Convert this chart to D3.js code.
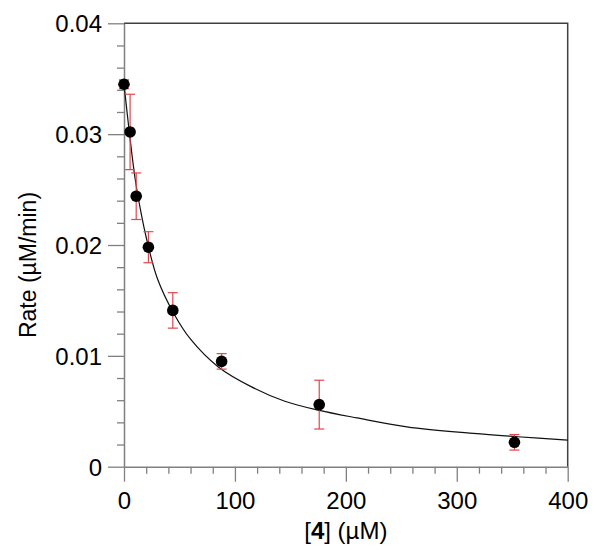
<!DOCTYPE html>
<html>
<head>
<meta charset="utf-8">
<script src="https://cdn.jsdelivr.net/npm/d3@7"></script>
<style>
  body { margin: 0; background: #fff; }
  svg text { font-family: "Liberation Sans", Arial, sans-serif; fill: #000; }
</style>
</head>
<body>
<div id="chart"></div>
<script>
// data
const conc = [0, 5.5, 11, 22, 44, 88, 176, 352];
const rate = [0.0345, 0.0302, 0.0244, 0.0198, 0.0141, 0.0095, 0.0056, 0.0022];
const err = [0.0004, 0.0034, 0.0021, 0.0014, 0.0016, 0.0007, 0.0022, 0.0007];

// fitted curve
const fitX = [0, 5, 10, 15, 20, 30, 45, 60, 85, 115, 145, 175, 210, 255, 315, 355, 400];
const fitY = [0.0345, 0.0300, 0.0260, 0.0231, 0.0207, 0.0170, 0.0138, 0.0115, 0.0090, 0.0072, 0.0059, 0.0051, 0.0044, 0.0036, 0.0030, 0.0027, 0.0024];

const xMajor = [0, 100, 200, 300, 400];
const yMajor = [0, 0.01, 0.02, 0.03, 0.04];

const width = 600;
const height = 557;
const margin = {top: 23.3, left: 124, right: 32.3, bottom: 90.3};
const plotW = width - margin.left - margin.right;
const plotH = height - margin.top - margin.bottom;

const x = d3.scaleLinear().domain([0, 400]).range([0, plotW]);
const y = d3.scaleLinear().domain([0, 0.04]).range([plotH, 0]);

const svg = d3.select('#chart')
    .append('svg')
    .attr('width', width)
    .attr('height', height);

const g = svg.append('g')
    .attr('transform', `translate(${margin.left}, ${margin.top})`);

const axisColor = '#808080';

// frame top / right
g.append('path')
    .attr('d', `M0,0H${plotW}V${plotH}`)
    .attr('fill', 'none')
    .attr('stroke', '#404040')
    .attr('stroke-width', 1.5);

// minor ticks
const xMinor = d3.range(0, 401, 20).filter(v => v % 100 !== 0);
const yMinor = d3.range(0, 41, 2).map(v => v / 1000).filter((v, i) => i % 5 !== 0);

g.append('g')
    .attr('transform', `translate(0, ${plotH})`)
    .call(d3.axisBottom(x).tickValues(xMinor).tickSize(7).tickFormat(''))
    .call(a => a.select('.domain').remove())
    .selectAll('line').attr('stroke', axisColor).attr('stroke-width', 1.3);

g.append('g')
    .call(d3.axisLeft(y).tickValues(yMinor).tickSize(7).tickFormat(''))
    .call(a => a.select('.domain').remove())
    .selectAll('line').attr('stroke', axisColor).attr('stroke-width', 1.3);

// major axes
const xAxis = g.append('g')
    .attr('transform', `translate(0, ${plotH})`)
    .call(d3.axisBottom(x).tickValues(xMajor).tickSize(15).tickSizeOuter(0).tickPadding(10).tickFormat(d3.format('d')));

const yAxis = g.append('g')
    .call(d3.axisLeft(y).tickValues(yMajor).tickSize(16).tickSizeOuter(0).tickPadding(6)
        .tickFormat(d => d === 0 ? '0' : d3.format('.2f')(d)));

[xAxis, yAxis].forEach(a => {
    a.select('.domain').attr('stroke', axisColor).attr('stroke-width', 1.5);
    a.selectAll('line').attr('stroke', axisColor).attr('stroke-width', 1.3);
    a.selectAll('text').style('font-size', '24px').attr('fill', '#000');
});
yAxis.selectAll('text').attr('dy', '0.35em');

// fitted curve
g.append('path')
    .datum(fitX.map((v, i) => [v, fitY[i]]))
    .attr('fill', 'none')
    .attr('stroke', '#111')
    .attr('stroke-width', 1.2)
    .attr('d', d3.line().x(d => x(d[0])).y(d => y(d[1])).curve(d3.curveCatmullRom.alpha(0.5)));

// error bars
const pts = conc.map((c, i) => ({c, r: rate[i], e: err[i]}));
const eb = g.append('g').attr('stroke', '#e0474c').attr('stroke-width', 1.2);
pts.forEach(d => {
    const px = x(d.c);
    eb.append('line').attr('x1', px).attr('x2', px).attr('y1', y(d.r - d.e)).attr('y2', y(d.r + d.e));
    [d.r - d.e, d.r + d.e].forEach(v => {
        eb.append('line').attr('x1', px - 5).attr('x2', px + 5).attr('y1', y(v)).attr('y2', y(v));
    });
});

// points
g.selectAll('circle')
    .data(pts)
    .enter()
    .append('circle')
    .attr('cx', d => x(d.c))
    .attr('cy', d => y(d.r))
    .attr('r', 5.8)
    .attr('fill', '#000');

// titles
const xt = svg.append('text')
    .attr('x', margin.left + plotW / 2)
    .attr('y', 539)
    .attr('text-anchor', 'middle')
    .style('font-size', '24px');
xt.append('tspan').text('[');
xt.append('tspan').attr('font-weight', 'bold').text('4');
xt.append('tspan').text('] (µM)');

svg.append('text')
    .attr('transform', 'translate(36, 265) rotate(-90)')
    .attr('text-anchor', 'middle')
    .style('font-size', '23px')
    .text('Rate (µM/min)');
</script>
</body>
</html>
